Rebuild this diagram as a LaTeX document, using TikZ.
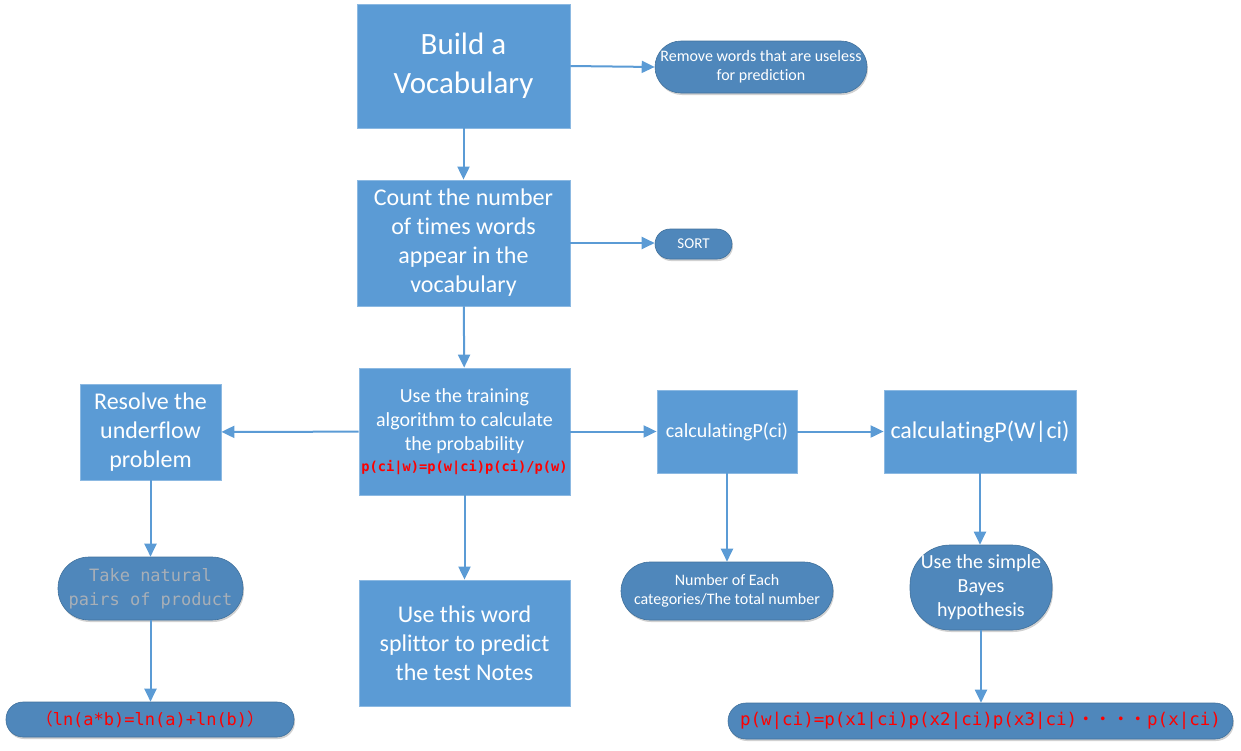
\documentclass[tikz,border=0pt]{standalone}
\usepackage{fontspec}
\setmainfont[Ligatures=NoCommon]{Carlito}
\newfontfamily\monof{DejaVu Sans Mono}
\newfontfamily\cjk{Noto Sans CJK SC}
\usetikzlibrary{arrows.meta,shadows}
\definecolor{bfill}{HTML}{5B9BD5}
\definecolor{rfill}{HTML}{4F87BB}
\definecolor{rline}{HTML}{41719C}
\definecolor{ltext}{HTML}{A8AFB7}
\definecolor{redt}{HTML}{FF0000}
\begin{document}
\begin{tikzpicture}[x=1pt,y=-1pt,
  sq/.style={fill=bfill,draw=bfill!70!white,line width=0.8pt,inner sep=0pt,align=center,text=white},
  pill/.style={fill=rfill,draw=rline,line width=0.6pt,rounded corners=18pt,inner sep=0pt,align=center,text=white,
     drop shadow={shadow xshift=1pt,shadow yshift=-2pt,opacity=0.18,fill=black}},
  conn/.style={draw=bfill,line width=2pt,-{Triangle[length=13pt,width=12pt]}},
  fs/.style 2 args={font=\fontsize{#1}{#2}\selectfont}
]
\useasboundingbox (0,0) rectangle (1241,750);

\node[sq,minimum width=213pt,minimum height=124pt,fs={31}{39}] (build) at (463.5,66) {Build a\\Vocabulary};
\node[sq,minimum width=213pt,minimum height=126pt,fs={24}{29}] (count) at (463.5,243) {Count the number\\of times words\\appear in the\\vocabulary};
\node[sq,minimum width=211pt,minimum height=127pt,fs={20}{24}] (train) at (464.5,431.5) {Use the training\\algorithm to calculate\\the probability\\[-3pt]{\monof\bfseries\fontsize{13.7}{15}\selectfont\color{redt}p(ci|w)=p(w|ci)p(ci)/p(w)}};
\node[sq,minimum width=141pt,minimum height=96pt,fs={24}{29}] (resolve) at (150.5,432) {Resolve the\\underflow\\problem};
\node[sq,minimum width=211pt,minimum height=126pt,fs={24}{29}] (split) at (464.5,643) {Use this word\\splittor to predict\\the test Notes};
\node[sq,minimum width=140pt,minimum height=83pt,fs={20}{24}] (pci) at (727,431.5) {calculatingP(ci)};
\node[sq,minimum width=192pt,minimum height=83pt,fs={24}{29}] (pw) at (980,431.5) {calculatingP(W|ci)};

\node[pill,minimum width=212pt,minimum height=52pt,fs={16}{19},rounded corners=26pt] (remove) at (761,67) {Remove words that are useless\\for prediction};
\node[pill,minimum width=77pt,minimum height=30pt,fs={15}{18},rounded corners=15pt] (sort) at (693.5,244) {SORT};
\node[pill,minimum width=185pt,minimum height=63pt,rounded corners=31pt,text=ltext,font=\monof\fontsize{17}{24}\selectfont] (take) at (150.5,588.5) {Take natural\\pairs of product};
\node[pill,minimum width=288pt,minimum height=35pt,rounded corners=17pt,text=redt,font=\monof\fontsize{17}{20}\selectfont] (ln) at (150,719.5) {{\cjk（}ln(a*b)=ln(a)+ln(b){\cjk）}};
\node[pill,minimum width=212pt,minimum height=58pt,fs={16}{19},rounded corners=29pt] (num) at (727,591) {Number of Each\\categories/The total number};
\node[pill,minimum width=142pt,minimum height=85pt,fs={20}{24},rounded corners=40pt] (bayes) at (981,587.5) {Use the simple\\Bayes\\hypothesis};
\node[pill,minimum width=505pt,minimum height=36pt,rounded corners=18pt,text=redt,font=\monof\fontsize{17.5}{20}\selectfont] (pwci) at (980.5,721) {p(w|ci)=p(x1|ci)p(x2|ci)p(x3|ci){\cjk・・・・}p(x|ci)};

\draw[conn] (build) -- (count);
\draw[conn] (build.east) -- (remove.west);
\draw[conn] (count.east) -- (count.east -| sort.west);
\draw[conn] (count) -- (train);
\draw[conn] (train) -- (resolve);
\draw[conn] (train.east) -- (pci.west);
\draw[conn] (pci) -- (pw);
\draw[conn] (train) -- (split);
\draw[conn] (resolve) -- (take);
\draw[conn] (take.south) -- (take.south |- ln.north);
\draw[conn] (pci) -- (num);
\draw[conn] (pw.south) -- (pw.south |- bayes.north);
\draw[conn] (bayes.south) -- (bayes.south |- pwci.north);
\end{tikzpicture}
\end{document}
